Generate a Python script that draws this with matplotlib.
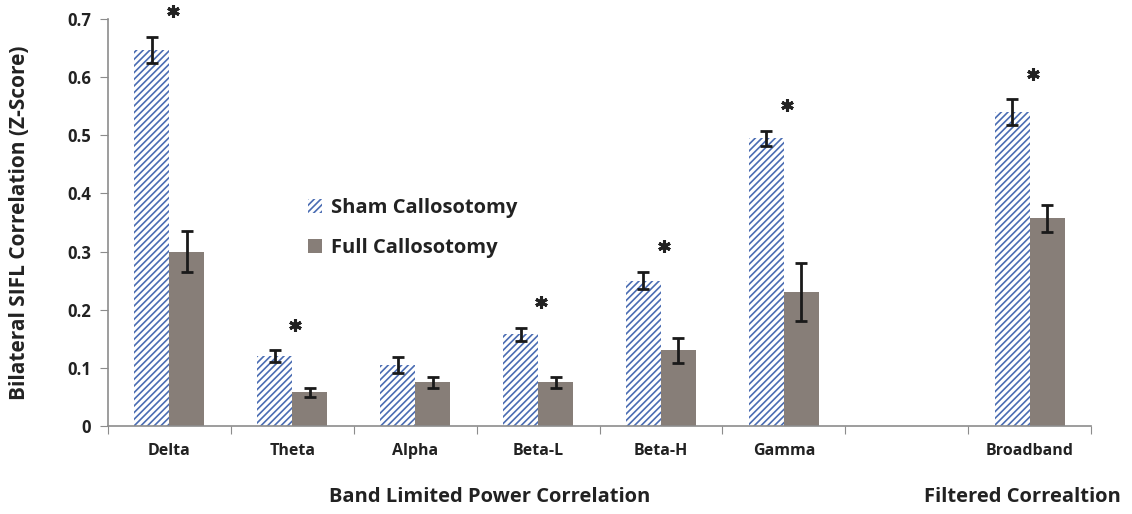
import matplotlib.pyplot as plt
import numpy as np

plt.rcParams['font.family'] = ['Open Sans', 'DejaVu Sans']
plt.rcParams['hatch.linewidth'] = 1.2

bands = ["Delta", "Theta", "Alpha", "Beta-L", "Beta-H", "Gamma", "", "Broadband"]
slots = [0, 1, 2, 3, 4, 5, 7]   # slot 6 is left empty
sham = [0.647, 0.120, 0.105, 0.158, 0.250, 0.495, 0.540]
sham_err = [0.022, 0.010, 0.014, 0.011, 0.015, 0.013, 0.022]
full = [0.300, 0.058, 0.075, 0.075, 0.130, 0.230, 0.357]
full_err = [0.035, 0.008, 0.010, 0.010, 0.022, 0.050, 0.023]
signif = [True, True, False, True, True, True, True]

blue = '#4a6cb3'
grey = '#877e78'
axcol = '#8c8c8c'
txt = '#222222'

fig = plt.figure(figsize=(11.32, 5.14), dpi=100)
ax = fig.add_axes([0.0954, 0.1712, 0.8684, 0.7918])

x = np.array(slots) + 0.5
w = 0.285
ax.bar(x - w/2, sham, w, color='white', edgecolor=blue, hatch='/////', linewidth=0,
       label='Sham Callosotomy')
ax.bar(x + w/2, full, w, color=grey, linewidth=0, label='Full Callosotomy')
ax.errorbar(x - w/2, sham, yerr=sham_err, fmt='none', ecolor='#1a1a1a', elinewidth=2,
            capsize=4, capthick=2)
ax.errorbar(x + w/2, full, yerr=full_err, fmt='none', ecolor='#1a1a1a', elinewidth=2,
            capsize=4, capthick=2)

# significance stars
for xi, s, e, sig in zip(x, sham, sham_err, signif):
    if sig:
        ax.plot(xi + 0.025, s + e + 0.044, marker=(6, 2, 0), ms=9, mew=2.2, color=txt,
                clip_on=False)

ax.set_xlim(0, 8)
ax.set_ylim(0, 0.7)
ax.set_yticks(np.arange(0, 0.71, 0.1))
ax.set_yticklabels(['0'] + ['%.1f' % v for v in np.arange(0.1, 0.71, 0.1)],
                   fontsize=12, fontweight='bold', color=txt)
ax.set_xticks(np.arange(0, 9))
ax.set_xticklabels([])
ax.set_xticks(np.arange(8) + 0.5, minor=True)
ax.set_xticklabels(bands, minor=True, fontsize=11.5, fontweight='bold', color=txt)
ax.tick_params(axis='x', which='minor', length=0, pad=12)
ax.tick_params(axis='x', which='major', length=6, color=axcol, direction='out')
ax.tick_params(axis='y', length=6, color=axcol, direction='out', pad=6)

for sp in ['top', 'right']:
    ax.spines[sp].set_visible(False)
for sp in ['left', 'bottom']:
    ax.spines[sp].set_color(axcol)
    ax.spines[sp].set_linewidth(1.2)

ax.set_ylabel('Bilateral SIFL Correlation (Z-Score)', fontsize=15, fontweight='bold',
              color=txt)
ax.yaxis.set_label_coords(-0.0793, 0.499)

leg = ax.legend(loc='center left', bbox_to_anchor=(0.185, 0.487), frameon=False,
                fontsize=14.5, handlelength=0.7, handleheight=0.7, handletextpad=0.45,
                labelspacing=1.0)
for t in leg.get_texts():
    t.set_fontweight('bold')
    t.set_color(txt)

fig.text(490 / 1132, 1 - 497 / 514, 'Band Limited Power Correlation', ha='center',
         va='center', fontsize=14.5, fontweight='bold', color=txt)
fig.text(1022 / 1132, 1 - 497 / 514, 'Filtered Correaltion', ha='center',
         va='center', fontsize=14.5, fontweight='bold', color=txt)

fig.savefig('out.png', dpi=100)
